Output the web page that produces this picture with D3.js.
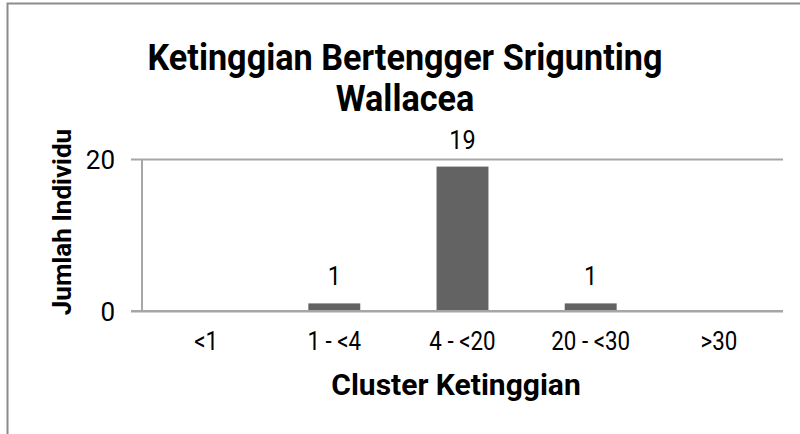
<!DOCTYPE html>
<html lang="en">
<head>
  <meta charset="UTF-8">
  <title>Ketinggian Bertengger Srigunting Wallacea</title>
  <script src="https://d3js.org/d3.v7.min.js"></script>
  <style>
    body {
      margin: 0;
      background: white;
      font-family: Roboto, sans-serif;
    }
    svg {
      display: block;
    }
  </style>
</head>
<body>
<svg width="800" height="434"></svg>

<script>
  // data
  const categories = ["<1", "1 - <4", "4 - <20", "20 - <30", ">30"];
  const counts = [0, 1, 19, 1, 0];
  const yTicks = [0, 20];
  const titleLines = ["Ketinggian Bertengger Srigunting", "Wallacea"];
  const xTitle = "Cluster Ketinggian";
  const yTitle = "Jumlah Individu";

  const svg = d3.select("svg");

  // outer border (right/bottom edges fall outside the picture)
  svg.append("rect")
    .attr("x", 7.5).attr("y", 3.5)
    .attr("width", 820).attr("height", 460)
    .attr("fill", "white")
    .attr("stroke", "#8c8c8c")
    .attr("stroke-width", 2);

  const x0 = 142, x1 = 783, yTop = 159, yBot = 311;

  const x = d3.scaleBand()
    .domain(categories)
    .range([x0, x1])
    .paddingInner(0.595)
    .paddingOuter(0.2975);

  const y = d3.scaleLinear()
    .domain([0, 20])
    .range([yBot, yTop]);

  // title
  svg.append("g")
    .selectAll("text")
    .data(titleLines)
    .join("text")
    .attr("transform", (d, i) => `translate(405, ${70 + i * 41}) scale(0.95,1)`)
    .attr("text-anchor", "middle")
    .attr("font-size", 36)
    .attr("font-weight", 700)
    .attr("fill", "#000")
    .text(d => d);

  // gridlines + y tick labels
  const yAxis = svg.append("g")
    .attr("transform", `translate(${x0},0)`)
    .call(d3.axisLeft(y)
      .tickValues(yTicks)
      .tickSize(-(x1 - x0))
      .tickPadding(27)
      .tickFormat(d3.format("d")));
  yAxis.select(".domain").remove();
  yAxis.selectAll(".tick line")
    .attr("x1", -11)
    .attr("stroke", "#a6a6a6")
    .attr("stroke-width", 2);
  yAxis.selectAll(".tick text")
    .attr("font-family", "Roboto, sans-serif")
    .attr("font-size", 26)
    .attr("fill", "#000")
    .attr("dy", "0.35em");

  // vertical axis line
  svg.append("line")
    .attr("x1", x0).attr("x2", x0)
    .attr("y1", y(20)).attr("y2", y(0))
    .attr("stroke", "#a6a6a6")
    .attr("stroke-width", 2);

  // bars
  svg.append("g")
    .selectAll("rect")
    .data(counts)
    .join("rect")
    .attr("x", (d, i) => x(categories[i]))
    .attr("y", d => y(d))
    .attr("width", x.bandwidth())
    .attr("height", d => y(0) - y(d))
    .attr("fill", "#636363");

  // redraw zero line on top of bars
  svg.append("line")
    .attr("x1", x0 - 11).attr("x2", x1)
    .attr("y1", y(0)).attr("y2", y(0))
    .attr("stroke", "#a6a6a6")
    .attr("stroke-width", 2);

  // data labels (only non-zero values)
  svg.append("g")
    .selectAll("text")
    .data(counts.map((v, i) => ({ v, c: categories[i] })).filter(d => d.v > 0))
    .join("text")
    .attr("transform", d => `translate(${x(d.c) + x.bandwidth() / 2}, ${y(d.v) - 18}) scale(0.9,1)`)
    .attr("text-anchor", "middle")
    .attr("font-size", 26)
    .attr("fill", "#000")
    .text(d => d.v);

  // x axis labels
  const xAxis = svg.append("g")
    .attr("transform", `translate(0,${yBot})`)
    .call(d3.axisBottom(x).tickSize(0).tickPadding(21));
  xAxis.select(".domain").remove();
  xAxis.selectAll(".tick text")
    .attr("font-family", "Roboto, sans-serif")
    .attr("font-size", 26)
    .attr("fill", "#000")
    .attr("transform", "scale(0.86,1)");

  // axis titles
  svg.append("text")
    .attr("x", 456)
    .attr("y", 395)
    .attr("text-anchor", "middle")
    .attr("font-size", 30)
    .attr("font-weight", 700)
    .text(xTitle);

  svg.append("text")
    .attr("transform", "translate(71, 222) rotate(-90)")
    .attr("text-anchor", "middle")
    .attr("font-size", 26)
    .attr("font-weight", 700)
    .text(yTitle);
</script>

</body>
</html>
